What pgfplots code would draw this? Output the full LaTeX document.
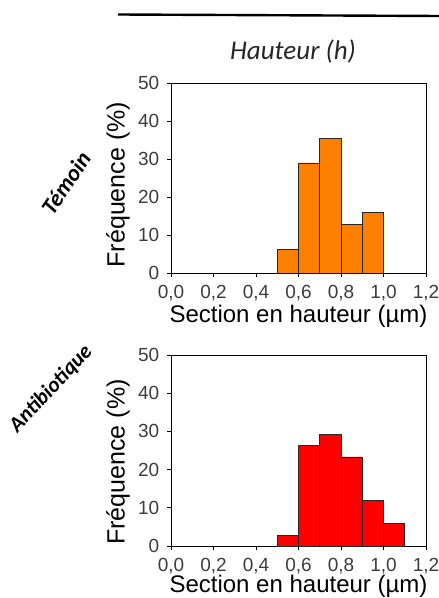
\documentclass[border=0pt]{standalone}
\usepackage{pgfplots}
\pgfplotsset{compat=1.18}
\usepackage{fontspec}
\setmainfont{Liberation Sans}
\newfontfamily\carlitofont{Carlito}
\definecolor{orangebar}{RGB}{255,128,0}
\definecolor{redbar}{RGB}{255,0,0}
\definecolor{ticktxt}{RGB}{60,60,60}
\pgfplotsset{
  histo/.style={
    scale only axis,
    anchor=south west,
    xmin=0, xmax=1.2, ymin=0, ymax=50,
    xtick={0,0.2,0.4,0.6,0.8,1.0,1.2},
    ytick={0,10,20,30,40,50},
    tick align=outside,
    tick pos=left,
    major tick length=4pt,
    minor tick num=0,
    axis line style={black, line width=0.8pt},
    every tick/.style={black, line width=0.8pt},
    /pgf/number format/assume math mode=true,
    xticklabel style={/pgf/number format/use comma, /pgf/number format/fixed, /pgf/number format/fixed zerofill, /pgf/number format/precision=1, inner sep=0pt, yshift=-8pt},
    ticklabel style={font=\fontsize{19}{19}\selectfont, text=ticktxt},
    yticklabel style={inner sep=0pt, xshift=-7.5pt},
    xlabel={Section en hauteur (µm)},
    ylabel={Fréquence (\%)},
    xlabel style={font=\fontsize{24}{24}\selectfont, at={(axis description cs:0.5,0)}, anchor=north, inner sep=0pt},
    ylabel style={font=\fontsize{25}{25}\selectfont, anchor=center, inner sep=0pt},
  }
}
\begin{document}
\begin{tikzpicture}[x=1pt,y=1pt]
\path[use as bounding box] (0,0) rectangle (439,598);
\draw[line width=2.4pt, black] (118,583.5) -- (439,582);
\node[font=\carlitofont\itshape\fontsize{27}{27}\selectfont, text=black!85] at (293,546) {Hauteur (h)};
\node[font=\carlitofont\bfseries\itshape\fontsize{23}{23}\selectfont, rotate=56] at (66,415) {Témoin};
\node[font=\carlitofont\bfseries\itshape\fontsize{21.5}{21.5}\selectfont, rotate=47] at (51,209) {Antibiotique};
\begin{axis}[histo, at={(171pt,325pt)}, width=255pt, height=190pt,
  xlabel style={yshift=-32pt},
  ylabel style={at={(axis description cs:-0.208,0.465)}}]
\addplot[ybar interval, fill=orangebar, draw=black!85, line width=0.6pt] coordinates {
(0.5,6.3) (0.6,29.0) (0.7,35.4) (0.8,12.7) (0.9,16.0) (1.0,16.0)
};
\end{axis}
\begin{axis}[histo, at={(171pt,52pt)}, width=255pt, height=191pt,
  xlabel style={yshift=-29pt},
  ylabel style={at={(axis description cs:-0.208,0.44)}}]
\addplot[ybar interval, fill=redbar, draw=black!85, line width=0.6pt] coordinates {
(0.5,2.8) (0.6,26.3) (0.7,29.3) (0.8,23.3) (0.9,11.9) (1.0,5.9) (1.1,5.9)
};
\end{axis}
\end{tikzpicture}
\end{document}
